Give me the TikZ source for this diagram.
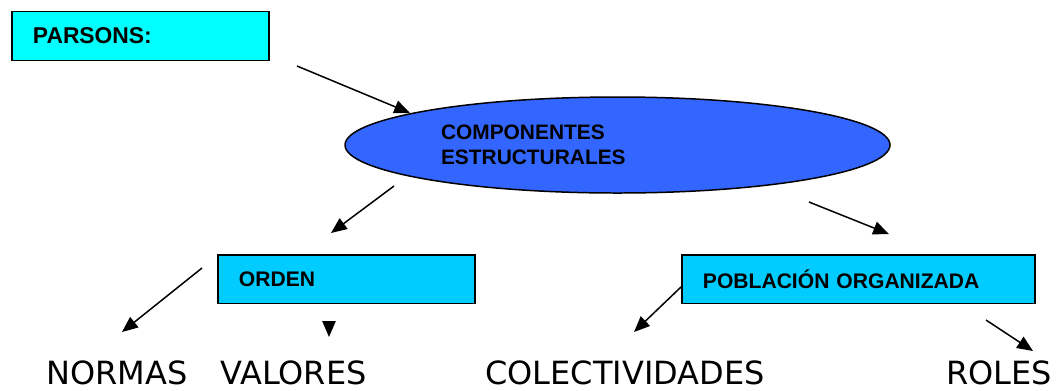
\documentclass[tikz,border=0pt]{standalone}
\usepackage{fontspec}
\setmainfont{Liberation Sans}
\newfontfamily\verd{DejaVu Sans}
\usetikzlibrary{shapes.geometric,arrows.meta}
\definecolor{parsonscyan}{RGB}{0,255,255}
\definecolor{boxcyan}{RGB}{0,204,255}
\definecolor{ellblue}{RGB}{51,102,255}

\begin{document}
\begin{tikzpicture}[x=0.02cm,y=-0.02cm]

% one pixel of the page
\def\px{0.02cm}
% node style definition
\tikzstyle{box} = [
	draw, line width=1.1pt, rectangle, anchor=north west,
	inner xsep=21*\px, align=left,
	font=\bfseries\fontsize{12pt}{14pt}\selectfont ];
\tikzstyle{word} = [anchor=base west, inner sep=0pt,
	font=\verd\fontsize{18.2pt}{20pt}\selectfont];
\tikzstyle{arr} = [-{Triangle[length=9pt,width=7.5pt]}, line width=0.85pt];

\useasboundingbox (0,0) rectangle (1061,390);

\node[box,fill=parsonscyan,minimum width=257*\px,minimum height=49*\px,
	text width=215*\px,font=\bfseries\fontsize{13pt}{15pt}\selectfont]
	(parsons) at (11,10.5) {PARSONS:};

\node[ellipse,draw,line width=0.85pt,fill=ellblue,
	minimum width=545*\px,minimum height=96*\px,inner sep=0pt,
	text width=353*\px,align=left,
	font=\bfseries\fontsize{11.9pt}{14.2pt}\selectfont]
	(comp) at (617.5,145) {COMPONENTES\\ESTRUCTURALES};

\node[box,fill=boxcyan,minimum width=257*\px,minimum height=48.5*\px,
	text width=215*\px] (orden) at (217,254) {ORDEN};
\node[box,fill=boxcyan,minimum width=353*\px,minimum height=48.5*\px,
	text width=311*\px] (pobl) at (681,254) {POBLACIÓN ORGANIZADA};

\node[word] (normas) at (46,384) {NORMAS};
\node[word] (valores) at (220,384) {VALORES};
\node[word] (colect) at (485,384) {COLECTIVIDADES};
\node[word] (roles) at (946,384) {ROLES};

% loose ends of the arrows
\coordinate (p0) at (297,66);   \coordinate (p1) at (410,113);
\coordinate (c0) at (394,186);  \coordinate (c1) at (331,233);
\coordinate (c2) at (809,202);  \coordinate (c3) at (889,234);
\coordinate (o0) at (202,268);  \coordinate (o1) at (122,332);
\coordinate (o2) at (329,321);  \coordinate (o3) at (329,337);
\coordinate (q0) at (681,287);  \coordinate (q1) at (634,332);
\coordinate (q2) at (986,320);  \coordinate (q3) at (1033,351);

\draw[arr] (p0) -- (p1);
\draw[arr] (c0) -- (c1);
\draw[arr] (c2) -- (c3);
\draw[arr] (o0) -- (o1);
\draw[arr] (o2) -- (o3);
\draw[arr] (q0) -- (q1);
\draw[arr] (q2) -- (q3);

\end{tikzpicture}
\end{document}
